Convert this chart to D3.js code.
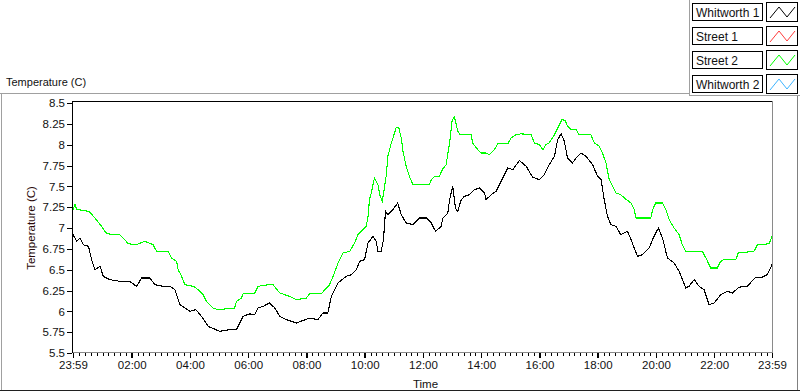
<!DOCTYPE html>
<html><head><meta charset="utf-8">
<script src="https://cdn.jsdelivr.net/npm/d3@7"></script>
<style>
html,body{margin:0;padding:0;background:#fff;}
svg{display:block;font-family:"Liberation Sans",Arial,sans-serif;}
</style></head>
<body>
<svg id="c" width="800" height="392"></svg>
<script>
// ---- data ----
const seriesNames = ["Whitworth 1", "Street 1", "Street 2", "Whitworth 2"];
const seriesColors = ["#000000", "#ff3c3c", "#00ff00", "#3cb4ff"];
const yTickLabels = ["5.5","5.75","6","6.25","6.5","6.75","7","7.25","7.5","7.75","8","8.25","8.5"];
const xTickLabels = ["23:59","02:00","04:00","06:00","08:00","10:00","12:00","14:00","16:00","18:00","20:00","22:00","23:59"];
const xTickHours = [0, 2.0167, 4.0167, 6.0167, 8.0167, 10.0167, 12.0167, 14.0167, 16.0167, 18.0167, 20.0167, 22.0167, 24];

// Whitworth 1 (black): hours since 23:59, temperature
const whitworth1Hours = [0,0.13,0.24,0.35,0.53,0.64,0.75,0.93,1.04,1.27,1.61,1.95,2.18,2.36,2.64,2.81,3.10,3.33,3.50,3.67,4.01,4.22,4.41,4.64,5.04,5.38,5.61,5.84,6.07,6.24,6.35,6.53,6.75,6.93,7.10,7.33,7.67,8.13,8.41,8.58,8.75,8.87,9.10,9.38,9.56,9.73,9.84,10.01,10.13,10.30,10.41,10.47,10.58,10.66,10.73,10.81,10.98,11.15,11.27,11.44,11.67,11.90,12.13,12.30,12.45,12.64,12.70,12.87,12.93,13.04,13.13,13.21,13.33,13.44,13.61,13.78,13.95,14.13,14.18,14.36,14.53,14.70,14.93,15.10,15.33,15.56,15.78,16.01,16.18,16.35,16.53,16.64,16.76,16.87,16.98,17.15,17.27,17.44,17.61,17.84,18.01,18.13,18.24,18.35,18.47,18.64,18.81,19.04,19.16,19.38,19.55,19.78,19.95,20.10,20.24,20.41,20.64,20.81,21.04,21.15,21.33,21.50,21.67,21.84,22.01,22.24,22.47,22.64,22.87,23.15,23.44,23.67,23.84,24];
const whitworth1Values = [6.92,6.84,6.88,6.80,6.78,6.62,6.50,6.54,6.42,6.38,6.36,6.36,6.30,6.40,6.40,6.32,6.30,6.30,6.26,6.08,6.00,6.02,5.94,5.82,5.76,5.78,5.78,5.94,5.97,5.96,6.04,6.06,6.10,6.04,5.94,5.90,5.86,5.92,5.90,5.98,5.98,6.18,6.34,6.42,6.44,6.50,6.60,6.62,6.82,6.90,6.84,6.72,6.72,6.86,7.20,7.16,7.22,7.30,7.16,7.06,7.04,7.12,7.12,7.06,6.96,7.02,7.12,7.18,7.34,7.50,7.24,7.20,7.34,7.38,7.40,7.46,7.48,7.42,7.34,7.40,7.44,7.56,7.72,7.70,7.81,7.74,7.61,7.58,7.64,7.76,7.86,8.06,8.13,8.04,7.84,7.78,7.84,7.90,7.86,7.76,7.62,7.58,7.34,7.14,7.04,7.02,6.92,6.96,6.86,6.66,6.68,6.76,6.90,7.00,6.88,6.64,6.58,6.48,6.28,6.30,6.38,6.30,6.26,6.08,6.10,6.20,6.24,6.22,6.29,6.30,6.41,6.41,6.44,6.56];

// Street 2 (green)
const street2Hours = [0,0.07,0.13,0.41,0.58,0.75,0.98,1.16,1.61,1.78,1.90,2.18,2.47,2.75,2.87,3.27,3.38,3.56,3.61,3.73,3.84,4.13,4.30,4.47,4.58,4.81,4.98,5.55,5.61,5.78,5.84,6.24,6.35,6.72,6.87,7.10,7.44,7.67,8.01,8.13,8.53,8.64,8.81,8.93,9.10,9.27,9.50,9.67,9.78,9.95,10.07,10.13,10.18,10.24,10.35,10.47,10.53,10.62,10.70,10.76,10.81,10.93,11.04,11.10,11.19,11.27,11.33,11.44,11.55,11.67,12.24,12.30,12.41,12.58,12.68,12.81,12.93,13.02,13.10,13.21,13.29,13.67,13.72,13.90,14.01,14.18,14.30,14.47,14.58,14.93,15.04,15.21,15.38,15.73,15.84,16.01,16.13,16.24,16.35,16.53,16.70,16.79,16.90,16.98,17.10,17.27,17.38,17.78,17.90,18.07,18.18,18.30,18.41,18.53,18.64,18.81,18.93,19.16,19.27,19.33,19.84,19.90,20.01,20.24,20.36,20.47,20.64,20.81,20.92,21.04,21.61,21.73,21.90,22.12,22.24,22.35,22.76,22.84,23.38,23.50,23.90,24];
const street2Values = [7.22,7.28,7.22,7.21,7.19,7.12,7.02,6.93,6.92,6.86,6.81,6.80,6.84,6.80,6.72,6.72,6.64,6.60,6.50,6.42,6.32,6.30,6.26,6.20,6.12,6.04,6.02,6.04,6.12,6.16,6.21,6.22,6.30,6.32,6.32,6.22,6.18,6.14,6.16,6.21,6.21,6.26,6.32,6.42,6.58,6.70,6.72,6.82,6.92,6.98,7.02,7.14,7.34,7.42,7.60,7.52,7.40,7.32,7.50,7.64,7.86,8.02,8.14,8.21,8.20,8.08,7.92,7.74,7.62,7.52,7.52,7.58,7.62,7.62,7.70,7.76,8.02,8.30,8.33,8.16,8.12,8.12,8.02,7.94,7.90,7.90,7.88,7.94,8.01,8.01,8.08,8.12,8.13,8.12,8.02,8.00,7.94,8.00,8.02,8.12,8.24,8.30,8.29,8.22,8.18,8.18,8.12,8.12,8.02,7.98,7.90,7.78,7.58,7.50,7.42,7.40,7.36,7.30,7.22,7.12,7.12,7.22,7.30,7.30,7.22,7.10,7.00,6.92,6.80,6.72,6.72,6.64,6.52,6.52,6.60,6.62,6.62,6.70,6.72,6.80,6.81,6.90];

// ---- drawing ----
const svg = d3.select("#c");
const start = new Date(2000, 0, 1, 23, 59);
const toDate = h => new Date(start.getTime() + h * 3600e3);
const plot = {l: 73, r: 772, t: 102, b: 352};

const x = d3.scaleTime().domain([toDate(0), toDate(24)]).range([plot.l, plot.r]);
const y = d3.scaleLinear().domain([5.5, 8.5]).range([353, 103]);

// outer frame
svg.append("line").attr("x1",0).attr("x2",689).attr("y1",93.5).attr("y2",93.5).attr("stroke","#a0a0a0");
svg.append("line").attr("x1",1.5).attr("x2",1.5).attr("y1",93).attr("y2",390).attr("stroke","#a0a0a0");
svg.append("line").attr("x1",0).attr("x2",800).attr("y1",390.5).attr("y2",390.5).attr("stroke","#202020");
svg.append("line").attr("x1",797.5).attr("x2",797.5).attr("y1",96).attr("y2",390).attr("stroke","#808080");
// legend frame
svg.append("line").attr("x1",689.5).attr("x2",689.5).attr("y1",0).attr("y2",96).attr("stroke","#a0a0a0");
svg.append("line").attr("x1",689).attr("x2",800).attr("y1",95.5).attr("y2",95.5).attr("stroke","#a0a0a0");

// title
svg.append("text").attr("x",6).attr("y",86).attr("font-size",11).attr("fill","#111").text("Temperature (C)");

// plot border
svg.append("line").attr("x1",plot.l-0.5).attr("x2",plot.r+0.5).attr("y1",plot.t-0.5).attr("y2",plot.t-0.5).attr("stroke","#000");
svg.append("line").attr("x1",plot.l-0.5).attr("x2",plot.l-0.5).attr("y1",plot.t-1).attr("y2",353).attr("stroke","#000");
svg.append("line").attr("x1",plot.r+0.5).attr("x2",plot.r+0.5).attr("y1",plot.t-1).attr("y2",353).attr("stroke","#8a8a8a");
svg.append("line").attr("x1",plot.l).attr("x2",plot.r+1).attr("y1",352.5).attr("y2",352.5).attr("stroke","#8a8a8a");

// y axis
const yAxis = d3.axisLeft(y).tickValues(yTickLabels.map(Number)).tickSize(5).tickPadding(2)
  .tickFormat((d,i) => yTickLabels[i]);
const gy = svg.append("g").attr("transform",`translate(${plot.l-1},0)`).call(yAxis);
gy.select(".domain").remove();
gy.selectAll("line").attr("stroke","#000").attr("shape-rendering","crispEdges");
gy.selectAll("text").attr("font-size",11.5).attr("font-family","Liberation Sans, Arial, sans-serif").attr("fill","#111");

// x axis: minor ticks every 12 minutes
const minor = d3.range(0, 24.01, 0.2).map(h => toDate(h + 1/60));
const gxm = svg.append("g").attr("transform","translate(0,353)")
  .call(d3.axisBottom(x).tickValues(minor.filter(d => d <= toDate(24))).tickSize(3).tickFormat(""));
gxm.select(".domain").remove();
gxm.selectAll("line").attr("stroke","#000").attr("shape-rendering","crispEdges");
const xAxis = d3.axisBottom(x).tickValues(xTickHours.map(toDate)).tickSize(5).tickPadding(3)
  .tickFormat((d,i) => xTickLabels[i]);
const gx = svg.append("g").attr("transform","translate(0,353)").call(xAxis);
gx.select(".domain").remove();
gx.selectAll("line").attr("stroke","#000").attr("stroke-width",1.5).attr("shape-rendering","crispEdges");
gx.selectAll("text").attr("font-size",11.5).attr("font-family","Liberation Sans, Arial, sans-serif").attr("fill","#111");

// axis titles
svg.append("text").attr("x",(plot.l+plot.r)/2+3).attr("y",388).attr("text-anchor","middle")
  .attr("font-size",11.5).attr("fill","#111").text("Time");
svg.append("text").attr("transform",`translate(35,${(103+353)/2}) rotate(-90)`).attr("text-anchor","middle")
  .attr("font-size",11.5).attr("fill","#2a0a0a").text("Temperature (C)");

// lines
const line = d3.line().x(d => x(d.t)).y(d => y(d.v));
const mk = (hs, vs) => hs.map((h,i) => ({t: toDate(h), v: vs[i]}));
svg.append("path").datum(mk(street2Hours, street2Values)).attr("d", line)
  .attr("fill","none").attr("stroke","#00ff00").attr("stroke-width",1.1).attr("shape-rendering","crispEdges");
svg.append("path").datum(mk(whitworth1Hours, whitworth1Values)).attr("d", line)
  .attr("fill","none").attr("stroke","#000").attr("stroke-width",1.1).attr("shape-rendering","crispEdges");

// legend
const lg = svg.append("g");
seriesNames.forEach((name, i) => {
  const ty = 3 + i*24;
  lg.append("rect").attr("x",692.5).attr("y",ty+0.5).attr("width",70).attr("height",17)
    .attr("fill","#fff").attr("stroke","#000");
  lg.append("text").attr("x",696).attr("y",ty+14).attr("font-size",12).attr("fill","#111").text(name);
  lg.append("rect").attr("x",766.5).attr("y",ty-0.5).attr("width",31).attr("height",19)
    .attr("fill","#fff").attr("stroke","#000");
  lg.append("polyline").attr("points",`770,${ty+15} 779,${ty+4} 787,${ty+14} 795,${ty+4}`)
    .attr("fill","none").attr("stroke",seriesColors[i]).attr("stroke-width",1);
});
</script>
</body></html>
